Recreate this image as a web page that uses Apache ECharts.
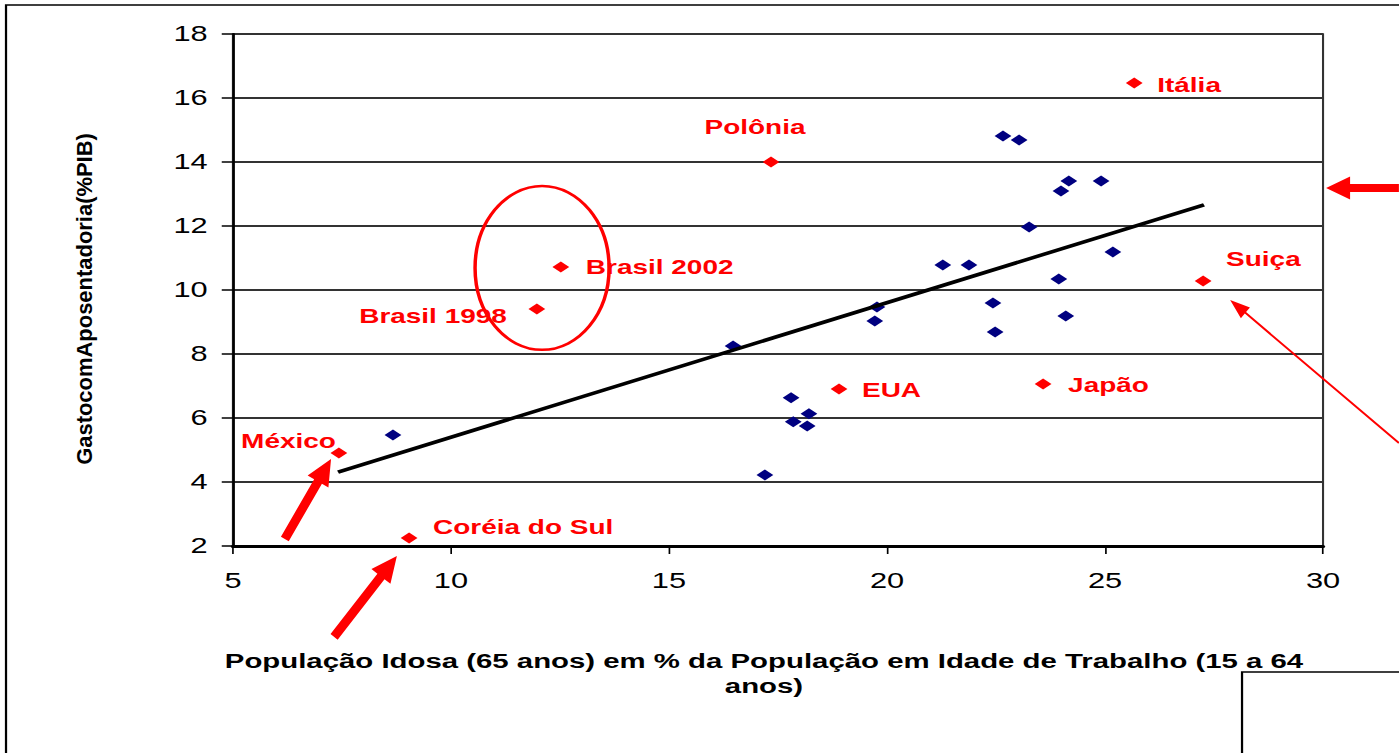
<!DOCTYPE html>
<html>
<head>
<meta charset="utf-8">
<script src="https://cdn.jsdelivr.net/npm/echarts@6/dist/echarts.min.js"></script>
<style>
  html, body { margin: 0; padding: 0; background: #fff; overflow: hidden; }
  /* a figura original esta esticada na horizontal */
  #chart { width: 1000px; height: 753px; transform: scaleX(1.399); transform-origin: 0 0; }
</style>
</head>
<body>
<div id="chart"></div>
<script>
var S = 1.399;

// demais paises (azul)
var outrosX = [8.67, 16.47, 17.2, 17.8, 17.85, 18.17, 18.21, 19.77, 19.72, 21.28, 21.88, 22.43, 22.48, 22.66, 23.03, 23.26, 23.99, 24.17, 23.94, 24.1, 24.91, 25.18];
var outrosY = [5.47, 8.25, 4.22, 6.63, 5.88, 5.75, 6.13, 9.47, 9.03, 10.78, 10.78, 9.59, 8.69, 14.81, 14.69, 11.97, 13.09, 13.41, 10.34, 9.19, 13.41, 11.19];

// paises em destaque (vermelho)
var destaqueNomes = ['México', 'Coréia do Sul', 'Brasil 1998', 'Brasil 2002', 'Polônia', 'EUA', 'Japão', 'Itália', 'Suiça'];
var destaqueX = [7.43, 9.04, 11.97, 12.52, 17.34, 18.9, 23.58, 25.67, 27.25];
var destaqueY = [4.91, 2.25, 9.41, 10.72, 14.0, 6.91, 7.06, 16.47, 10.28];

// reta de tendencia
var tendenciaX = [7.41, 27.27];
var tendenciaY = [4.31, 12.66];

var xTicks = [5, 10, 15, 20, 25, 30];
var yTicks = [2, 4, 6, 8, 10, 12, 14, 16, 18];

// posicao dos rotulos em px da tela: [dx, dy, align]
var rotulos = {
  'México': [-3, -12, 'right'],
  'Coréia do Sul': [24, -11, 'left'],
  'Brasil 1998': [-30, 7, 'right'],
  'Brasil 2002': [25, 0, 'left'],
  'Polônia': [-16, -35, 'center'],
  'EUA': [23, 1, 'left'],
  'Japão': [25, 1, 'left'],
  'Itália': [23, 2, 'left'],
  'Suiça': [23, -22, 'left']
};

var fonte = 'Liberation Sans, Arial, sans-serif';
var simbolo = [12, 11];

var outros = outrosX.map(function (x, i) { return [x, outrosY[i]]; });
var destaque = destaqueNomes.map(function (n, i) {
  var r = rotulos[n];
  return {
    name: n,
    value: [destaqueX[i], destaqueY[i]],
    label: {
      position: [simbolo[0] / 2 + r[0] / S, simbolo[1] / 2 + r[1]],
      align: r[2],
      verticalAlign: 'middle'
    }
  };
});
var tendencia = tendenciaX.map(function (x, i) { return [x, tendenciaY[i]]; });

var chart = echarts.init(document.getElementById('chart'), null, { renderer: 'svg' });

var option = {
  animation: false,
  backgroundColor: '#fff',
  textStyle: { fontFamily: fonte },
  grid: {
    left: 166.5, right: 54.3, top: 34, bottom: 207,
    show: true, borderColor: '#333', borderWidth: 1.5
  },
  xAxis: {
    type: 'value',
    min: xTicks[0], max: xTicks[xTicks.length - 1], interval: xTicks[1] - xTicks[0],
    name: 'População Idosa (65 anos) em % da População em Idade de Trabalho (15 a 64\nanos)',
    nameLocation: 'middle',
    nameGap: 102,
    nameTextStyle: { fontSize: 21, fontWeight: 'bold', color: '#000', lineHeight: 25, padding: [0, 20, 0, 0], fontFamily: fonte },
    axisLine: { show: true, lineStyle: { color: '#000', width: 3 } },
    axisTick: { show: true, inside: false, length: 8, lineStyle: { color: '#000', width: 1.2 } },
    axisLabel: { fontSize: 22, color: '#000', margin: 24, fontFamily: fonte },
    splitLine: { show: false }
  },
  yAxis: {
    type: 'value',
    min: yTicks[0], max: yTicks[yTicks.length - 1], interval: yTicks[1] - yTicks[0],
    axisLine: { show: true, lineStyle: { color: '#000', width: 1.8 } },
    axisTick: { show: true, length: 8, lineStyle: { color: '#000', width: 1.5 } },
    axisLabel: { fontSize: 22, color: '#000', margin: 18, fontFamily: fonte },
    splitLine: { show: true, lineStyle: { color: '#333', width: 2 } }
  },
  series: [
    {
      name: 'Outros',
      type: 'scatter',
      symbol: 'diamond',
      symbolSize: simbolo,
      itemStyle: { color: '#000080', opacity: 1 },
      data: outros,
      z: 2
    },
    {
      name: 'Tendência',
      type: 'line',
      data: tendencia,
      showSymbol: false,
      symbol: 'none',
      lineStyle: { color: '#000', width: 3.5 },
      z: 3
    },
    {
      name: 'Destaque',
      type: 'scatter',
      symbol: 'diamond',
      symbolSize: simbolo,
      itemStyle: { color: '#ff0000', opacity: 1 },
      label: {
        show: true,
        formatter: '{b}',
        color: '#ff0000',
        fontSize: 20,
        fontWeight: 'bold',
        fontFamily: fonte
      },
      data: destaque,
      z: 4
    }
  ],
  graphic: [
    {
      type: 'text',
      x: 60, y: 299,
      rotation: Math.PI / 2,
      scaleX: 1.373,
      style: {
        text: 'GastocomAposentadoria(%PIB)',
        font: 'bold 16px ' + fonte,
        fill: '#000',
        align: 'center',
        verticalAlign: 'middle'
      }
    },
    {
      type: 'polyline',
      shape: { points: [[4.3, 760], [4.3, 5], [1010, 5]] },
      style: { stroke: '#000', lineWidth: 1.6, fill: null }
    },
    {
      type: 'polyline',
      shape: { points: [[887.8, 760], [887.8, 672], [1010, 672]] },
      style: { stroke: '#000', lineWidth: 1.6, fill: null }
    }
  ]
};

chart.setOption(option);

// anotacoes (setas e elipse) ancoradas em coordenadas do grafico
function tela(p) {
  var q = chart.convertToPixel({ gridIndex: 0 }, p);
  return [q[0] * S, q[1]];
}
function interno(pts) {
  return pts.map(function (p) { return [p[0] / S, p[1]]; });
}
function seta(de, ate, corpo, cabeca, largCab) {
  var a = tela(de), b = tela(ate);
  var dx = b[0] - a[0], dy = b[1] - a[1];
  var L = Math.sqrt(dx * dx + dy * dy);
  var ux = dx / L, uy = dy / L, nx = -uy, ny = ux;
  var bx = b[0] - ux * cabeca, by = b[1] - uy * cabeca;
  var pts = [
    [a[0] + nx * corpo / 2, a[1] + ny * corpo / 2],
    [bx + nx * corpo / 2, by + ny * corpo / 2],
    [bx + nx * largCab / 2, by + ny * largCab / 2],
    [b[0], b[1]],
    [bx - nx * largCab / 2, by - ny * largCab / 2],
    [bx - nx * corpo / 2, by - ny * corpo / 2],
    [a[0] - nx * corpo / 2, a[1] - ny * corpo / 2]
  ];
  return { type: 'polygon', shape: { points: interno(pts) }, style: { fill: '#ff0000' }, z: 100 };
}

var centro = tela([12.09, 10.69]);
var bordaX = tela([12.09 + 1.537, 10.69]);
var bordaY = tela([12.09, 10.69 + 2.56]);

chart.setOption({
  graphic: option.graphic.concat([
    {
      type: 'ellipse',
      shape: { cx: centro[0] / S, cy: centro[1], rx: (bordaX[0] - centro[0]) / S, ry: centro[1] - bordaY[1] },
      style: { stroke: '#ff0000', lineWidth: 2.5, fill: null },
      z: 100
    },
    seta([6.19, 2.22], [7.25, 4.72], 9, 26, 24),
    seta([7.32, -0.84], [8.76, 1.69], 9, 26, 24),
    seta([31.74, 13.19], [30.07, 13.19], 8, 24, 23),
    seta([31.74, 5.22], [27.87, 9.69], 2, 20, 14)
  ])
});
</script>
</body>
</html>
